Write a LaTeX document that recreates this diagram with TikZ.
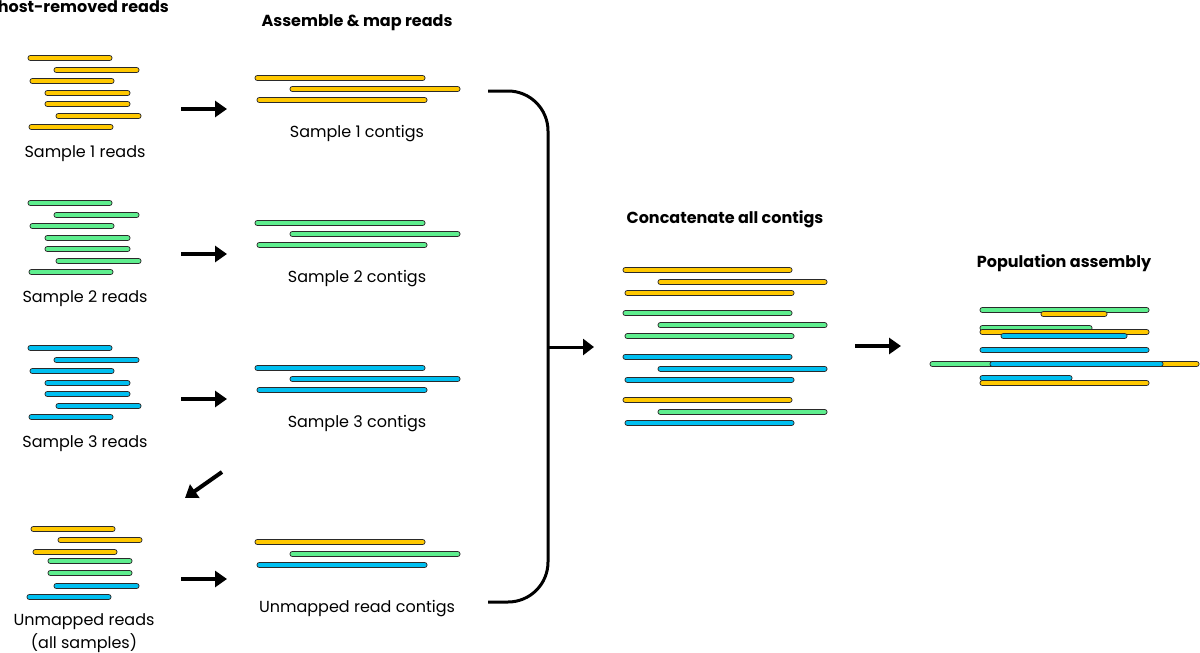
\documentclass[tikz,border=0pt]{standalone}
\usepackage{fontspec}
\setmainfont{Poppins}
\usetikzlibrary{arrows.meta}
\definecolor{cyel}{HTML}{FFC800}
\definecolor{cgrn}{HTML}{5EEE8E}
\definecolor{cblu}{HTML}{00BFF0}
\definecolor{outl}{HTML}{2A2A2A}
\newcommand\rdbar[4]{%
  \draw[line width=6pt,line cap=round,draw=outl] ({#1+2.5},#3)--({#2-2.5},#3);
  \draw[line width=4.2pt,line cap=round,draw=#4] ({#1+2.5},#3)--({#2-2.5},#3);}
\tikzset{
  lbl/.style={font=\fontsize{16}{19}\selectfont, inner sep=0pt},
  ttl/.style={font=\fontsize{16}{19}\selectfont\bfseries, inner sep=0pt},
  flow/.style={line width=4pt,-{Triangle[length=12pt,width=16pt]}},
  brace/.style={line width=3pt,rounded corners=40pt}
}
\begin{document}
\begin{tikzpicture}[x=1pt,y=-1pt]
\useasboundingbox (0,0) rectangle (1200,653);
\fill[white] (0,0) rectangle (1200,653);
% titles
\node[ttl,anchor=east] (thost) at (169,7) {host-removed reads};
\node[ttl] (tasm) at (357,23) {Assemble \& map reads};
\node[ttl] (tcat) at (725,219) {Concatenate all contigs};
\node[ttl] (tpop) at (1064,263) {Population assembly};
% sample rows
\foreach \k/\c in {0/cyel,1/cgrn,2/cblu}{
  \begin{scope}[yshift=-\k*145pt]
    \rdbar{28}{112}{58}{\c}
    \rdbar{54}{139}{70}{\c}
    \rdbar{30}{114}{81}{\c}
    \rdbar{45}{130}{93}{\c}
    \rdbar{45}{130}{104}{\c}
    \rdbar{56}{141}{116}{\c}
    \rdbar{29}{113}{127}{\c}
    \rdbar{255}{425}{78}{\c}
    \rdbar{290}{460}{89}{\c}
    \rdbar{257}{427}{100}{\c}
  \end{scope}
}
\node[lbl] (r1) at (85,154) {Sample 1 reads};
\node[lbl] (r2) at (85,299) {Sample 2 reads};
\node[lbl] (r3) at (85,444) {Sample 3 reads};
\node[lbl] (c1) at (357,134) {Sample 1 contigs};
\node[lbl] (c2) at (357,279) {Sample 2 contigs};
\node[lbl] (c3) at (357,424) {Sample 3 contigs};
% unmapped reads
\rdbar{31}{115}{529}{cyel}
\rdbar{58}{142}{540}{cyel}
\rdbar{33}{117}{552}{cyel}
\rdbar{48}{132}{561}{cgrn}
\rdbar{48}{132}{573}{cgrn}
\rdbar{54}{139}{586}{cblu}
\rdbar{27}{111}{597}{cblu}
\node[lbl] (ru1) at (84,622) {Unmapped reads};
\node[lbl] (ru2) at (84,643) {(all samples)};
\rdbar{255}{425}{542}{cyel}
\rdbar{290}{460}{554}{cgrn}
\rdbar{257}{427}{565}{cblu}
\node[lbl] (cu) at (357,609) {Unmapped read contigs};
% concatenated
\foreach \k/\c/\d/\e in {0/cyel/cyel/cyel,1/cgrn/cgrn/cgrn,2/cblu/cblu/cblu,3/cyel/cgrn/cblu}{
  \begin{scope}[yshift=-\k*43.3pt]
    \rdbar{623}{792}{270}{\c}
    \rdbar{658}{827}{282}{\d}
    \rdbar{625}{794}{293}{\e}
  \end{scope}
}
% population assembly
\rdbar{980}{1149}{310}{cgrn}
\rdbar{1041}{1107}{314}{cyel}
\rdbar{980}{1092}{328}{cgrn}
\rdbar{980}{1149}{332}{cyel}
\rdbar{1001}{1127}{336}{cblu}
\rdbar{980}{1149}{350}{cblu}
\rdbar{930}{994}{364}{cgrn}
\rdbar{1159}{1199}{364}{cyel}
\rdbar{990}{1163}{364}{cblu}
\rdbar{980}{1149}{383}{cyel}
\rdbar{980}{1072}{378}{cblu}
% arrows
\foreach \i/\y in {1/109,2/254,3/399,4/579}{
  \coordinate (as\i) at (181,\y);
  \coordinate (ae\i) at (227,\y);
  \draw[flow] (as\i) -- (ae\i);
}
\coordinate (ds) at (222,472);
\coordinate (de) at (185,498);
\draw[flow] (ds) -- (de);
% brace
\coordinate (bt) at (488,91);
\coordinate (bb) at (488,602);
\coordinate (bm) at (548,347);
\coordinate (bmo) at (594,347);
\draw[brace] (bt) -- (548,91) -- (548,602) -- (bb);
\draw[line width=3pt,-{Triangle[length=11pt,width=16pt]}] (bm) -- (bmo);
\coordinate (ps) at (855,346);
\coordinate (pe) at (901,346);
\draw[flow] (ps) -- (pe);
\end{tikzpicture}
\end{document}
